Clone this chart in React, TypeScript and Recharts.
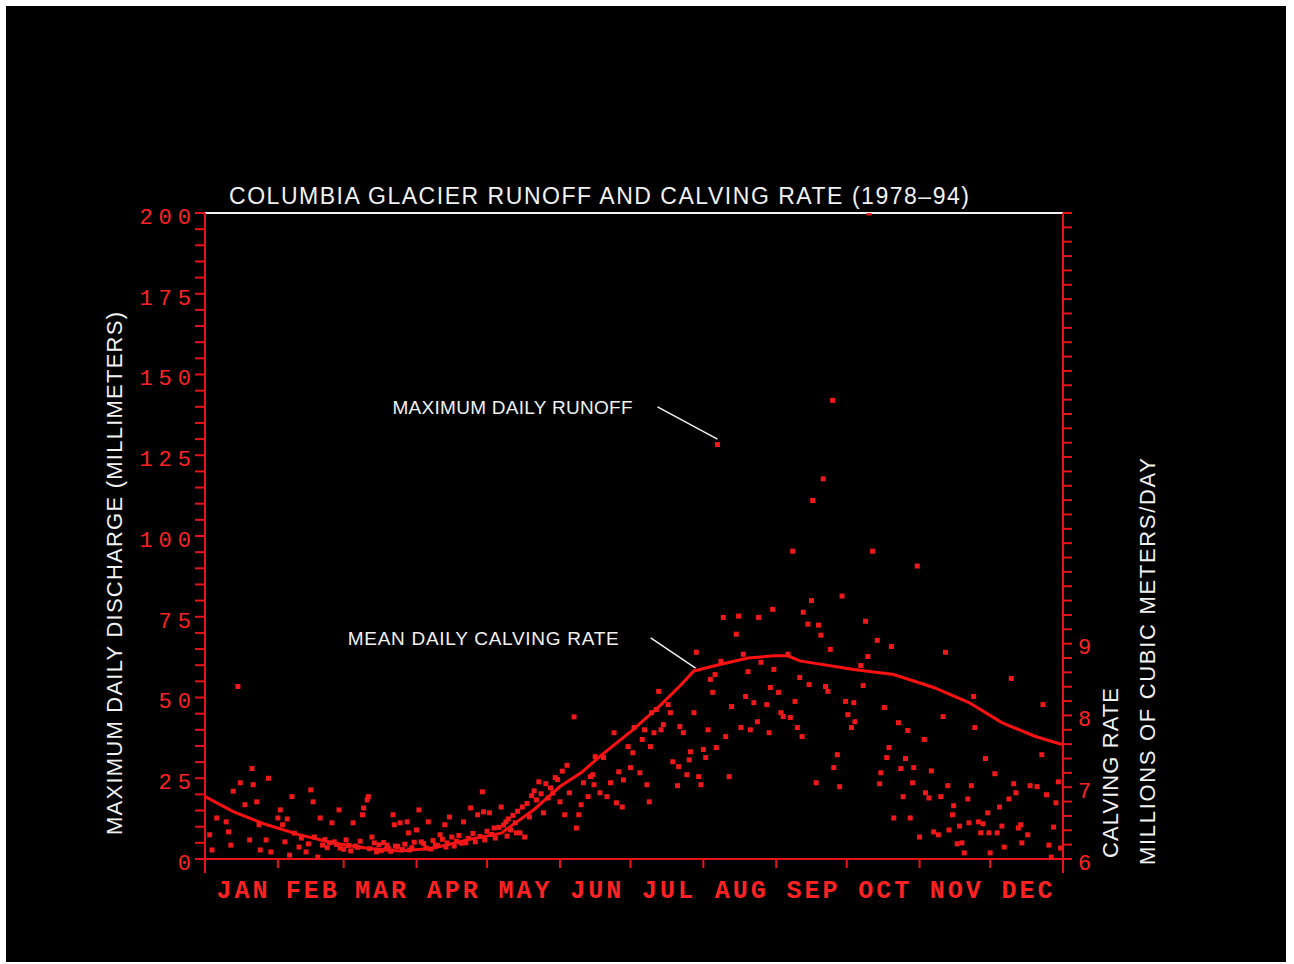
import React from 'react';
import { ComposedChart, Scatter, Line, XAxis, YAxis, ReferenceLine, ReferenceDot } from 'recharts';

// ---------- data ----------
const monthNames = ['JAN', 'FEB', 'MAR', 'APR', 'MAY', 'JUN', 'JUL', 'AUG', 'SEP', 'OCT', 'NOV', 'DEC'];
const monthStarts = [0, 31, 59, 90, 120, 151, 181, 212, 243, 273, 304, 334, 365];
const monthMids = [15.5, 45, 74.5, 105, 135.5, 166, 196.5, 227.5, 258, 288.5, 319, 349.5];

const dischargeLabels = [0, 25, 50, 75, 100, 125, 150, 175, 200];
const rateLabels = [6, 7, 8, 9];

// mean daily calving rate (millions of m3/day), by day of year
const calvingDays = [0, 12, 26, 40, 55, 69, 83, 97, 112, 126, 140, 151, 160, 168, 182, 194, 202, 208, 219, 231, 242, 248, 253, 276, 293, 310, 325, 339, 353, 365];
const calvingRate = [6.87, 6.66, 6.48, 6.34, 6.22, 6.15, 6.11, 6.15, 6.27, 6.36, 6.69, 7.01, 7.2, 7.43, 7.8, 8.15, 8.41, 8.62, 8.71, 8.8, 8.83, 8.83, 8.76, 8.64, 8.57, 8.39, 8.18, 7.9, 7.71, 7.59];

// maximum daily runoff (mm): [day of year, mm]
const runoffPoints: [number, number][] = [
  [2, 7.5], [3, 2.8], [5, 12.7], [9, 11.5], [10, 8.4], [11, 4.3], [12, 21], [14, 53.4], [15, 23.6], [17, 16.8],
  [19, 5.9], [20, 28], [20.5, 23], [22, 17.7], [23, 10.6], [23.5, 2.8], [26, 5.9], [27, 25], [28, 2.2], [31, 12.7],
  [32, 15.2], [33, 10.6], [34, 5.3], [35, 12.4], [36, 1.2], [37, 19.3], [40, 3.7], [43, 2.2], [45, 21.4], [46, 17.7],
  [46.5, 6.8], [48, 0.6], [49, 12.7], [50, 4.3], [53, 5], [54, 11.2], [55, 5.3], [57, 15.2], [57.5, 3.4], [60, 5.9],
  [63, 11.2], [64, 4], [67, 13.7], [67.5, 15.8], [69, 18.3], [69.5, 19.3], [71, 6.8], [72, 5], [73, 2.2], [77, 3.1],
  [77.5, 4.3], [80, 13.7], [80.5, 10.6], [81, 4], [83, 11.2], [86, 11.5], [86.5, 8.1], [87, 2.8], [90, 9], [91, 15.2],
  [92, 5.3], [94, 3.4], [95, 11.5], [98, 4.3], [100, 7.5], [102, 10.6], [102.5, 3.7], [104, 13], [106, 4], [110, 11.5],
  [111, 5], [113, 15.8], [115, 5.3], [116, 13.7], [118, 20.8], [118.5, 14.6], [119, 5.9], [121, 14.3], [123, 9.6], [123.5, 6.5],
  [126, 16.1], [128, 11.5], [128.5, 7.1], [130, 9], [132, 11.2], [132.5, 8.1], [134, 8.1], [135, 16.1], [136, 6.8], [138, 13],
  [141, 18.3], [142, 23.9], [144, 14.3], [147, 22], [149, 25.2], [151, 17.7], [153, 13.7], [155, 20.5], [157, 44], [158, 9.6],
  [159, 13.7], [160, 16.8], [161, 23.6], [163, 19.3], [164, 25.5], [165, 26.1], [165.5, 23], [166, 31.7], [168, 20.5], [169.5, 31.4],
  [171, 19.3], [172.5, 23.6], [174, 39.1], [175, 17.4], [176, 27], [177.5, 16.1], [178, 24.5], [180, 34.8], [181, 28.3], [182, 32.9],
  [182.5, 40.7], [185, 26.7], [186, 37], [187, 40], [188, 23], [189, 17.7], [189.5, 34.8], [190, 45.3], [191, 39.1], [192, 46.3],
  [193, 51.9], [194, 40], [195, 41.6], [197, 47.8], [198, 45.3], [199, 30.1], [201, 22.7], [201.5, 28.6], [202, 41], [203.5, 39.1],
  [205, 26.1], [206, 30.7], [206.5, 33.2], [208, 45.3], [209, 64], [210, 25.5], [211, 23], [212, 33.9], [213, 31.4], [214, 40],
  [215, 55.6], [216, 51.6], [217, 57.1], [217.5, 34.5], [218, 128.3], [219.5, 61.2], [220.5, 74.8], [221.5, 37.9], [223, 25.5], [224, 47.2],
  [226, 69.6], [227, 75.2], [228, 40.7], [229, 63.4], [230, 50.3], [231, 58], [232, 40], [233.5, 48.4], [235, 42.5], [235.5, 74.8],
  [236.5, 60.9], [239, 47.8], [240, 39.1], [240.5, 53.1], [241.5, 77.3], [242, 58.7], [244, 51.6], [245, 45.3], [246, 44.1], [248, 63.4],
  [249, 43.8], [250, 95.3], [251, 48.8], [252, 40.7], [253, 56.2], [254, 37.9], [254.5, 76.4], [256.5, 72.7], [257, 54], [258, 80],
  [258.5, 111], [260, 23.6], [261, 72.4], [262, 69.3], [263, 117.7], [264, 53.4], [265, 51.9], [266, 64.9], [267, 142], [267.5, 28.3],
  [269, 32.3], [270, 22.4], [271, 81.4], [272.5, 48.8], [273.5, 44.7], [275, 40.7], [276, 48.4], [276.5, 42.5], [279, 59.9], [280, 53.7],
  [281, 73.6], [282, 62.7], [282.5, 200], [284, 95.3], [286, 67.7], [287, 23.3], [287.5, 26.7], [289, 46.9], [290, 31.4], [291, 34.5],
  [292, 65.8], [293, 12.7], [295, 42.2], [296, 28], [297, 19.3], [298, 31.1], [299, 39.8], [300, 12.7], [301, 23.6], [301.5, 28.3],
  [303, 90.7], [304, 6.8], [306, 37], [306.5, 20.5], [308, 18.9], [309, 27.3], [310, 8.4], [312, 7.5], [313, 19.3], [314, 44.1],
  [315, 64], [316, 22.7], [316.5, 9], [318, 13.7], [318.5, 16.5], [320, 4.7], [321, 10.2], [322, 5], [323, 1.9], [324.5, 18.6],
  [325, 11.2], [326, 22.7], [327, 50.3], [327.5, 40.7], [329, 11.5], [330, 8.1], [331, 10.9], [332, 31.1], [333, 14.3], [333.5, 8.1],
  [334, 1.9], [336, 26.4], [337, 8.1], [338, 16.1], [339, 10.2], [340, 3.7], [342, 18.6], [343, 55.9], [344, 23.3], [345, 20.5],
  [346, 9.6], [347, 10.6], [347.5, 5], [350, 7.5], [351, 22.7], [354, 22.4], [356, 32.3], [356.5, 47.8], [358, 19.9], [359, 4.3],
  [360, 0.6], [361, 9.9], [362, 17.4], [363, 23.9], [364, 3.4],
  // dense band along the calving curve, Feb–Jun
  [38, 8], [41, 6.5], [44, 4.7], [51, 6], [52, 3.5], [56, 4.5], [59, 3], [61, 4.2], [62, 2.5], [65, 3.6],
  [66, 5.5], [70, 3.2], [74, 4.4], [75, 2.6], [76, 5.1], [78, 3.3], [79, 2.4], [82, 3.9], [84, 2.9], [85, 4.6],
  [88, 3.5], [89, 5.2], [93, 4.8], [96, 3.1], [97, 5.7], [99, 4.2], [101, 6.1], [103, 5], [105, 6.8], [107, 5.5],
  [108, 7.3], [109, 4.9], [112, 6.4], [114, 7.9], [117, 7], [120, 8.6], [122, 7.6], [125, 9.8], [127, 10.5], [129, 12.4],
  [131, 13.5], [133, 14.8], [137, 17.2], [139, 19.6], [140, 21.1], [143, 20.2], [145, 23.3], [146, 18.9], [148, 20.4], [150, 24.6],
  [152, 27.2], [154, 29],
];

const runoffData = runoffPoints.map(([day, mm]) => ({ day, mm }));
const calvingData = calvingDays.map((day, i) => ({ day, rate: calvingRate[i] }));

// axis tick positions (minor ticks every 5 mm / 0.2 units)
const dischargeTicks = Array.from({ length: 41 }, (_, i) => i * 5);
const rateTicks = Array.from({ length: 46 }, (_, i) => Math.round((6 + i * 0.2) * 10) / 10);
const dayTicks = [...monthStarts, ...monthMids].sort((a, b) => a - b);

// ---------- styles ----------
const AXIS_RED = '#e8121a';
const LABEL_RED = '#ff2222';
const DOT_RED = '#f01818';
const WHITE = '#f2f2f2';
const MONO = '"Liberation Mono", "DejaVu Sans Mono", monospace';
const SANS = '"Liberation Sans", Arial, sans-serif';

const RunoffDot = (props: any) => {
  const { cx, cy } = props;
  if (cx == null || cy == null) return <g />;
  return <rect x={cx - 2.5} y={cy - 2.5} width={5} height={5} fill={DOT_RED} />;
};

const MonthTick = (props: any) => {
  const { x, y, payload } = props;
  const v = payload.value;
  const mi = monthMids.indexOf(v);
  if (mi >= 0) {
    return (
      <text x={x + 2} y={y + 39} textAnchor="middle" fill={LABEL_RED} fontFamily={MONO} fontSize={25}
        fontWeight="bold" letterSpacing={3}>
        {monthNames[mi]}
      </text>
    );
  }
  const isEnd = v === 0 || v === 365;
  return <line x1={x} y1={y} x2={x} y2={y + (isEnd ? 14 : 9)} stroke={AXIS_RED} strokeWidth={2} />;
};

const LeftTitle = (props: any) => {
  const vb = props.viewBox || {};
  const x = vb.x - 23;
  const y = vb.y + vb.height - 24;
  return (
    <text x={x} y={y} transform={`rotate(-90 ${x} ${y})`} fill={WHITE} fontFamily={SANS} fontSize={22}
      textLength={523} lengthAdjust="spacing">
      MAXIMUM DAILY DISCHARGE (MILLIMETERS)
    </text>
  );
};

const RightTitle = (props: any) => {
  const vb = props.viewBox || {};
  const x1 = vb.x + 55;
  const y1 = vb.y + vb.height - 1;
  const x2 = vb.x + 92;
  const y2 = vb.y + vb.height + 6;
  return (
    <g>
      <text x={x1} y={y1} transform={`rotate(-90 ${x1} ${y1})`} fill={WHITE} fontFamily={SANS} fontSize={22}
        textLength={170} lengthAdjust="spacing">
        CALVING RATE
      </text>
      <text x={x2} y={y2} transform={`rotate(-90 ${x2} ${y2})`} fill={WHITE} fontFamily={SANS} fontSize={22}
        textLength={407} lengthAdjust="spacing">
        MILLIONS OF CUBIC METERS/DAY
      </text>
    </g>
  );
};

const ChartTitle = (props: any) => {
  const vb = props.viewBox || {};
  return (
    <text x={vb.x + 24} y={vb.y - 9} fill={WHITE} fontFamily={SANS} fontSize={23} textLength={740} lengthAdjust="spacing">
      COLUMBIA GLACIER RUNOFF AND CALVING RATE (1978–94)
    </text>
  );
};

const makeAnnot = (text: string, gap: number, len: number) => (props: any) => {
  const vb = props.viewBox || {};
  return (
    <text x={vb.x - gap - len} y={vb.y + 7} fill={WHITE} fontFamily={SANS} fontSize={19} textLength={len} lengthAdjust="spacing">
      {text}
    </text>
  );
};

export default function App() {
  return (
    <div style={{ position: 'absolute', left: 6, top: 6, width: 1280, height: 956, background: '#000' }}>
      <ComposedChart width={1280} height={956} margin={{ top: 207, right: 163, bottom: 43, left: 139 }}>
        <XAxis
          xAxisId="days"
          dataKey="day"
          type="number"
          domain={[0, 365]}
          ticks={dayTicks}
          interval={0}
          height={60}
          tickSize={0}
          tickMargin={0}
          tickLine={false}
          tick={<MonthTick />}
          axisLine={{ stroke: AXIS_RED, strokeWidth: 2 }}
          allowDataOverflow
        />
        <YAxis
          yAxisId="left"
          dataKey="mm"
          type="number"
          domain={[0, 200]}
          ticks={dischargeTicks}
          interval={0}
          width={60}
          tickSize={10}
          tickMargin={3}
          tickFormatter={(v: number) => (dischargeLabels.includes(v) ? String(v) : '')}
          tick={{ fill: LABEL_RED, fontSize: 22, fontFamily: MONO, letterSpacing: 6, dx: 5, dy: 3 }}
          tickLine={{ stroke: AXIS_RED, strokeWidth: 2 }}
          axisLine={{ stroke: AXIS_RED, strokeWidth: 2 }}
          label={LeftTitle}
          allowDataOverflow
        />
        <YAxis
          yAxisId="right"
          orientation="right"
          type="number"
          domain={[6, 15]}
          ticks={rateTicks}
          interval={0}
          width={60}
          tickSize={9}
          tickMargin={6}
          tickFormatter={(v: number) => (rateLabels.includes(v) ? String(v) : '')}
          tick={{ fill: LABEL_RED, fontSize: 22, fontFamily: MONO, dy: 3 }}
          tickLine={{ stroke: AXIS_RED, strokeWidth: 2 }}
          axisLine={{ stroke: AXIS_RED, strokeWidth: 2 }}
          label={RightTitle}
          allowDataOverflow
        />
        <ReferenceLine xAxisId="days" yAxisId="left" y={200} stroke={WHITE} strokeWidth={2} label={ChartTitle} />
        <Scatter
          xAxisId="days"
          yAxisId="left"
          data={runoffData}
          dataKey="mm"
          shape={RunoffDot}
          isAnimationActive={false}
        />
        <Line
          xAxisId="days"
          yAxisId="right"
          data={calvingData}
          dataKey="rate"
          type="linear"
          stroke="#ff1010"
          strokeWidth={3}
          dot={false}
          activeDot={false}
          isAnimationActive={false}
        />
        <ReferenceLine
          xAxisId="days"
          yAxisId="left"
          segment={[{ x: 192.5, y: 140 }, { x: 218, y: 130 }]}
          stroke={WHITE}
          strokeWidth={1.5}
        />
        <ReferenceDot xAxisId="days" yAxisId="left" x={192.5} y={140} r={0} fill="none" stroke="none"
          label={makeAnnot('MAXIMUM DAILY RUNOFF', 25, 240)} />
        <ReferenceLine
          xAxisId="days"
          yAxisId="right"
          segment={[{ x: 189.6, y: 9.08 }, { x: 208.7, y: 8.66 }]}
          stroke={WHITE}
          strokeWidth={1.5}
        />
        <ReferenceDot xAxisId="days" yAxisId="right" x={189.6} y={9.08} r={0} fill="none" stroke="none"
          label={makeAnnot('MEAN DAILY CALVING RATE', 32, 271)} />
      </ComposedChart>
    </div>
  );
}
